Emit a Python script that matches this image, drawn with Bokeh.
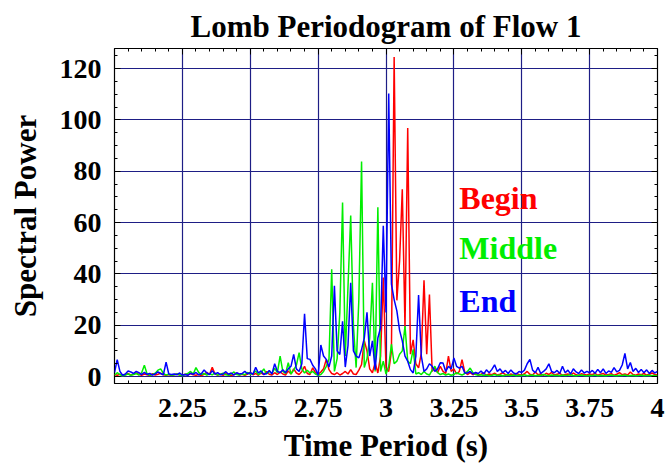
import numpy as np
from bokeh.plotting import figure
from bokeh.models import FixedTicker, LinearAxis, CustomJSTickFormatter, ColumnDataSource
from bokeh.core.properties import value
from bokeh.embed import file_html
from bokeh.resources import INLINE

# ---------------- data ----------------
period_start = 2.0
period_step = 0.01
n_points = 201

begin = [
    0.8, 0.5, 0.9, 0.4, 0.7, 1.2, 0.6, 0.9, 1.4, 0.8,
    0.5, 1.0, 0.7, 0.4, 1.1, 0.6, 0.9, 1.3, 0.7, 0.5,
    0.8, 0.4, 0.7, 1.0, 0.6, 0.5, 0.9, 0.6, 1.2, 0.7,
    0.5, 0.8, 0.4, 0.9, 1.6, 0.8, 3.6, 1.0, 0.6, 0.9,
    0.5, 1.1, 0.7, 0.4, 0.8, 1.3, 0.6, 0.9, 0.5, 1.0,
    1.6, 0.7, 1.2, 0.5, 1.4, 0.8, 2.0, 0.9, 0.6, 1.5,
    0.8, 1.8, 1.0, 0.6, 2.2, 1.0, 3.0, 1.4, 0.8, 2.0,
    4.0, 1.2, 0.8, 3.4, 1.5, 0.9, 1.8, 3.0, 6.7, 2.7,
    1.2, 0.8, 1.5, 0.6, 1.2, 2.0, 1.0, 2.7, 1.0, 0.8,
    2.5, 4.7, 14.0, 10.0, 3.0, 1.5, 5.4, 1.4, 8.0, 38.6,
    3.4, 2.0, 10.0, 124.5, 29.7, 45.0, 73.0, 19.0, 96.8, 8.7,
    14.3, 5.0, 3.4, 9.0, 37.5, 8.7, 32.0, 2.0, 3.5, 1.5,
    4.0, 2.0, 1.2, 8.0, 2.0, 3.0, 1.0, 2.0, 6.6, 1.8,
    0.8, 1.5, 0.7, 1.2, 0.6, 0.9, 1.4, 0.5, 1.0, 0.7,
    1.3, 0.6, 0.9, 1.5, 0.8, 0.5, 1.0, 0.6, 1.2, 0.8,
    0.5, 1.1, 2.0, 0.9, 0.6, 1.8, 0.7, 1.0, 0.5, 1.3,
    0.8, 1.6, 0.6, 0.9, 1.2, 0.5, 0.8, 1.0, 0.6, 1.4,
    0.7, 0.5, 1.1, 0.8, 0.6, 1.0, 0.7, 1.3, 0.5, 0.9,
    1.2, 0.6, 0.8, 1.1, 0.5, 0.9, 1.5, 0.7, 1.0, 0.6,
    1.8, 0.8, 0.5, 1.0, 0.7, 1.2, 0.6, 0.9, 1.4, 0.8,
    0.6,
]

middle = [
    0.5, 1.5, 0.8, 0.3, 0.6, 1.0, 0.5, 0.8, 1.2, 0.6,
    1.5, 4.4, 1.0, 0.5, 0.8, 1.3, 2.5, 3.0, 1.2, 0.6,
    0.9, 0.5, 0.7, 1.0, 0.6, 0.4, 0.8, 1.2, 2.0, 1.0,
    3.5, 1.6, 0.8, 1.2, 0.6, 1.0, 0.7, 1.4, 0.6, 0.9,
    1.3, 0.7, 0.5, 1.0, 1.8, 0.8, 0.6, 1.1, 0.7, 1.6,
    0.9, 1.2, 2.2, 0.8, 1.5, 3.0, 1.0, 2.0, 1.2, 3.2,
    1.5, 8.0, 2.0, 1.2, 5.4, 1.0, 2.5, 4.5, 9.3, 3.0,
    1.4, 2.5, 1.4, 2.0, 1.0, 0.5, 0.8, 2.0, 4.0, 6.7,
    41.8, 2.0, 7.0, 25.0, 67.8, 8.0, 35.0, 62.7, 20.0, 3.5,
    30.0, 83.8, 3.5, 7.0, 15.0, 36.5, 2.0, 66.0, 2.0, 6.0,
    1.0, 4.0, 12.6, 5.0, 6.0, 8.7, 10.0, 19.7, 6.0, 5.0,
    10.6, 1.0, 1.5, 0.8, 2.0, 1.0, 0.6, 2.5, 4.0, 1.5,
    0.8, 1.2, 0.6, 1.0, 0.5, 0.8, 1.5, 1.0, 0.6, 1.2,
    2.0, 3.3, 1.5, 0.8, 0.5, 0.7, 0.4, 0.6, 0.3, 0.5,
    0.8, 0.4, 0.6, 0.3, 0.5, 0.7, 0.4, 0.6, 0.3, 0.5,
    0.4, 0.7, 0.3, 0.5, 0.6, 0.3, 0.5, 0.4, 0.8, 0.5,
    0.3, 0.6, 0.4, 0.5, 0.3, 0.6, 0.4, 0.5, 0.7, 0.4,
    0.3, 0.5, 0.6, 0.4, 0.3, 0.5, 0.4, 0.6, 0.3, 0.5,
    0.4, 0.3, 0.5, 0.6, 0.4, 0.3, 0.5, 0.4, 0.6, 0.3,
    0.4, 0.5, 0.3, 0.4, 0.6, 0.3, 0.4, 0.5, 0.3, 0.4,
    0.3,
]

end = [
    1.5, 6.6, 2.0, 0.5, 1.0, 2.2, 1.8, 1.2, 2.0, 1.5,
    0.8, 1.6, 0.9, 1.2, 0.6, 1.0, 1.8, 1.2, 0.7, 5.6,
    1.0, 0.8, 1.0, 0.7, 1.4, 0.6, 0.8, 0.5, 1.3, 0.9,
    1.6, 0.7, 1.1, 2.6, 1.4, 0.8, 2.3, 1.0, 1.5, 0.7,
    1.0, 1.9, 0.9, 1.4, 0.6, 1.5, 1.0, 1.2, 2.0, 1.1,
    1.5, 0.9, 3.6, 1.4, 2.2, 0.8, 1.2, 2.4, 1.0, 5.0,
    2.0, 1.5, 2.7, 1.5, 3.0, 4.0, 8.6, 3.0, 2.0, 5.0,
    24.5, 7.0, 6.7, 4.4, 3.0, 0.5, 12.3, 8.0, 6.7, 3.7,
    8.0, 35.4, 10.0, 8.6, 21.5, 3.7, 12.0, 36.5, 10.0, 8.0,
    7.3, 10.6, 15.0, 25.0, 8.0, 13.9, 2.7, 15.0, 19.0, 58.7,
    25.0, 110.3, 36.0, 30.0, 25.6, 18.0, 13.9, 8.0, 6.0, 2.7,
    1.4, 8.0, 31.8, 8.0, 2.0, 3.0, 5.0, 4.0, 2.0, 3.0,
    5.4, 5.3, 2.0, 4.0, 3.0, 7.2, 4.0, 3.3, 4.0, 1.4,
    1.4, 2.0, 1.0, 1.6, 1.2, 2.2, 1.0, 2.6, 1.5, 2.8,
    4.6, 2.0, 3.0, 1.5, 2.4, 1.2, 2.6, 1.4, 1.0, 2.0,
    1.6, 2.5, 5.0, 6.7, 2.5, 1.5, 3.6, 1.2, 2.0, 3.0,
    5.0, 2.0, 1.5, 2.4, 1.2, 4.0, 1.5, 2.5, 1.0, 3.0,
    1.8, 1.2, 2.6, 1.4, 2.0, 1.5, 2.4, 1.3, 2.8, 1.5,
    3.0, 1.2, 2.2, 1.6, 3.5, 1.8, 2.4, 4.5, 9.0, 3.0,
    5.5, 2.0, 3.2, 1.6, 2.8, 1.5, 2.6, 1.2, 2.4, 1.4,
    2.0,
]

period = np.round(period_start + period_step * np.arange(n_points), 2)

title_text = "Lomb Periodogram of Flow 1"
series_names = ["Begin", "Middle", "End"]
series_colors = ["#ff0000", "#00ee00", "#0000ff"]

x_ticks = [2.25, 2.5, 2.75, 3.0, 3.25, 3.5, 3.75, 4.0]
x_tick_labels = ["2.25", "2.5", "2.75", "3", "3.25", "3.5", "3.75", "4"]
y_ticks = [0, 20, 40, 60, 80, 100, 120]
y_tick_labels = ["0", "20", "40", "60", "80", "100", "120"]

# ---------------- figure ----------------
FONT = "Liberation Serif"
GRID = "#1e1e85"

p = figure(width=669, height=472, x_range=(2.0, 4.0), y_range=(-2.7, 127.8),
           output_backend="svg", toolbar_location=None,
           min_border_left=114, min_border_right=12,
           min_border_top=48, min_border_bottom=89)
p.background_fill_color = "white"
p.border_fill_color = "white"
p.outline_line_color = "black"
p.outline_line_width = 1.2

p.title.text = title_text
p.title.align = "center"
p.title.text_font = FONT
p.title.text_font_style = "bold"
p.title.text_font_size = "31px"
p.title.text_color = "black"
p.title.offset = -8
p.title.standoff = 10

x_minor = list(np.round(np.arange(2.0, 4.0001, 0.05), 2))
y_minor = list(range(0, 130, 5))

xt = FixedTicker(ticks=x_ticks, minor_ticks=x_minor)
yt = FixedTicker(ticks=y_ticks, minor_ticks=y_minor)

LOOKUP = ("for (let i = 0; i < tvals.length; i++) { "
          "if (Math.abs(tvals[i] - tick) < 1e-9) return labs[i]; } return '';")
xfmt = CustomJSTickFormatter(args=dict(tvals=x_ticks, labs=x_tick_labels), code=LOOKUP)
yfmt = CustomJSTickFormatter(args=dict(tvals=y_ticks, labs=y_tick_labels), code=LOOKUP)
blank = CustomJSTickFormatter(code="return '';")

def style_axis(ax):
    ax.axis_line_color = None
    ax.major_tick_in = 6
    ax.major_tick_out = 0
    ax.minor_tick_in = 3
    ax.minor_tick_out = 0
    ax.major_tick_line_color = "black"
    ax.minor_tick_line_color = "black"
    ax.major_label_text_font = FONT
    ax.major_label_text_font_style = "bold"
    ax.major_label_text_font_size = "28px"
    ax.major_label_text_color = "black"
    ax.axis_label_text_font = FONT
    ax.axis_label_text_font_style = "bold"
    ax.axis_label_text_font_size = "31px"
    ax.axis_label_text_color = "black"

xa = p.xaxis[0]
xa.ticker = xt
xa.formatter = xfmt
style_axis(xa)
xa.axis_label = "Time Period (s)"
xa.major_label_standoff = 15
xa.axis_label_standoff = 8

ya = p.yaxis[0]
ya.ticker = yt
ya.formatter = yfmt
style_axis(ya)
ya.axis_label = "Spectral Power"
ya.major_label_standoff = 13
ya.axis_label_standoff = 14

top = LinearAxis(ticker=xt, formatter=blank)
style_axis(top)
top.major_label_standoff = 0
p.add_layout(top, "above")
right = LinearAxis(ticker=yt, formatter=blank)
style_axis(right)
right.major_label_standoff = 0
p.add_layout(right, "right")

p.xgrid.ticker = FixedTicker(ticks=x_ticks)
p.ygrid.ticker = FixedTicker(ticks=y_ticks)
p.xgrid.grid_line_color = GRID
p.ygrid.grid_line_color = GRID
p.xgrid.grid_line_width = 1.2
p.ygrid.grid_line_width = 1.2

src = ColumnDataSource(dict(period=period, begin=begin, middle=middle, end=end))
for col, color in zip(["begin", "middle", "end"], series_colors):
    p.line("period", col, source=src, line_color=color, line_width=1.5)

lab_src = ColumnDataSource(dict(x=[3.27, 3.27, 3.27], y=[69.5, 50.0, 29.5],
                                text=series_names, color=series_colors))
p.text(x="x", y="y", text="text", text_color="color", source=lab_src,
       text_font=value(FONT), text_font_style="bold", text_font_size="32px",
       text_baseline="middle", text_align="left")

open("out.html", "w").write(file_html(p, INLINE))
